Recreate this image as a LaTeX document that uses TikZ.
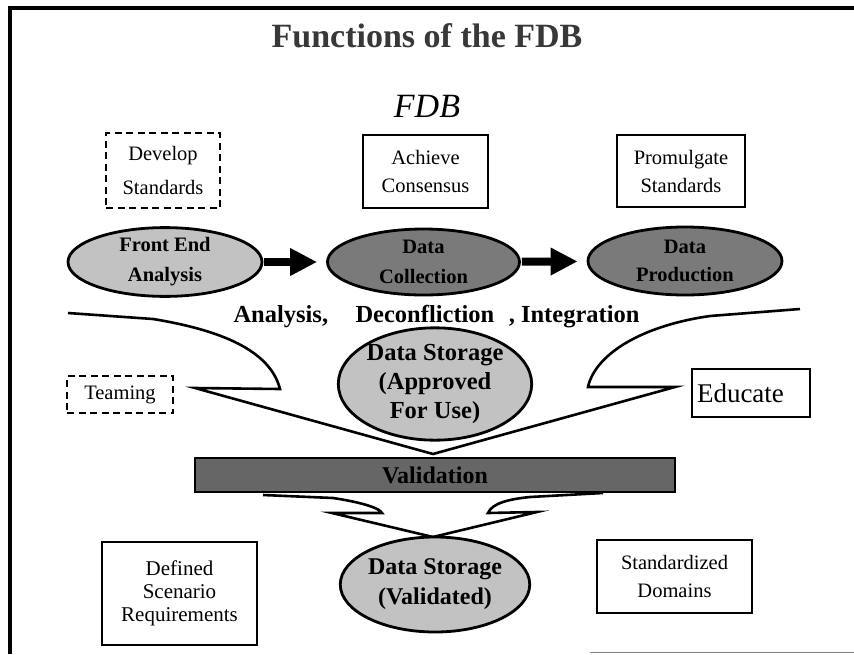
\documentclass[tikz,border=0pt]{standalone}
\usepackage{fontspec}
\setmainfont{Liberation Serif}
\usetikzlibrary{arrows.meta,shapes.geometric}
\definecolor{lightfill}{gray}{0.76}
\definecolor{darkfill}{gray}{0.48}
\definecolor{barfill}{gray}{0.40}
\begin{document}
\begin{tikzpicture}[x=1pt,y=-1pt,
  box/.style={draw,line width=2.8pt,align=center,inner sep=0pt,
    font=\fontsize{20.5}{28}\selectfont},
  dashbox/.style={box,line width=2.4pt,dash pattern=on 7pt off 4.5pt},
  blob/.style={ellipse,draw,line width=2.8pt,inner sep=0pt,align=center,
    font=\fontsize{20.5}{30}\selectfont\bfseries},
  lightblob/.style={blob,fill=lightfill},
  darkblob/.style={blob,fill=darkfill},
  flow/.style={-{Triangle[length=27pt,width=26pt]},line width=8pt,
    shorten <=1pt,shorten >=9pt},
  funnel/.style={line width=2.6pt,line join=miter},
  caption/.style={font=\fontsize{24.5}{30}\selectfont\bfseries}]
\useasboundingbox (0,0) rectangle (854,654);
\fill[white] (0,0) rectangle (854,654);

% page frame
\draw[line width=3.5pt] (10,654) -- (10,8) -- (854,8);
\draw[gray,line width=1pt] (590,652) -- (854,652);

% headings
\node[anchor=base,font=\fontsize{34}{40}\selectfont\bfseries,text=black!78]
  (title) at (427,47) {Functions of the FDB};
\node[anchor=base,font=\fontsize{34}{40}\selectfont\itshape]
  (fdb) at (427,117) {FDB};

% top row of tasks
\node[dashbox,minimum width=114pt,minimum height=75pt,
  font=\fontsize{20.5}{34}\selectfont] (develop) at (163,170.5) {Develop\\Standards};
\node[box,minimum width=125pt,minimum height=73pt] (achieve) at (425.5,171.5) {Achieve\\Consensus};
\node[box,minimum width=128pt,minimum height=72pt] (promulgate) at (681,171) {Promulgate\\Standards};

% process chain
\node[lightblob,minimum width=194pt,minimum height=66pt] (fe) at (165,262) {Front End\\Analysis};
\node[darkblob,minimum width=192pt,minimum height=66pt] (dc) at (423.5,262) {Data\\Collection};
\node[darkblob,minimum width=194pt,minimum height=68pt,
  font=\fontsize{20.5}{28}\selectfont\bfseries] (dp) at (685,261) {Data\\Production};
\draw[flow] (fe) -- (dc);
\draw[flow] (dc) -- (dp);

% caption over the funnel
\node[caption,anchor=base west] (ana) at (230,322) {Analysis,};
\node[caption,anchor=base west] (dec) at (352,322) {Deconfliction};
\node[caption,anchor=base east] (integ) at (643,322) {, Integration};

% upper funnel
\draw[funnel] (68,313) -- (153,319) .. controls (220,330) and (270,350) .. (280,389)
  -- (195,388) -- (433,454) -- (675,387) -- (588,387)
  .. controls (595,355) and (640,326) .. (710,316) -- (800,309);

\node[lightblob,minimum width=186pt,minimum height=98pt,
  font=\fontsize{24.5}{29}\selectfont\bfseries] (approved) at (435,384)
  {Data Storage\\(Approved\\For Use)};

\node[dashbox,minimum width=106pt,minimum height=37pt] (teaming) at (120,394.5) {Teaming};
\node[box,minimum width=118pt,minimum height=48pt,text width=108pt,align=left,
  inner xsep=5pt,font=\fontsize{27}{30}\selectfont] (educate) at (751,393) {Educate};

% validation stage
\node[draw,line width=2.2pt,fill=barfill,minimum width=480pt,minimum height=34pt,
  inner sep=0pt,font=\fontsize{24}{28}\selectfont\bfseries] (valid) at (435,475) {Validation};

% lower funnel
\draw[funnel] (263,495) -- (333,498) .. controls (360,502) and (380,508) .. (382,513)
  -- (332,513) -- (433,537) -- (537,512) -- (488,513)
  .. controls (492,503) and (510,499) .. (530,497) -- (603,493);

\node[lightblob,minimum width=184pt,minimum height=95pt,
  font=\fontsize{24}{30}\selectfont\bfseries] (validated) at (435,584.5)
  {Data Storage\\(Validated)};

% bottom row
\node[box,minimum width=155pt,minimum height=103pt,
  font=\fontsize{21}{23}\selectfont] (defined) at (179.5,593.5)
  {Defined\\Scenario\\Requirements};
\node[box,minimum width=155pt,minimum height=73pt] (domains) at (674.5,576.5)
  {Standardized\\Domains};
\end{tikzpicture}
\end{document}
